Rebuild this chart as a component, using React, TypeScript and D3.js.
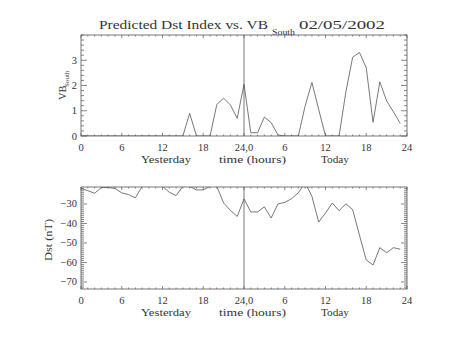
import React from "react";
import * as d3 from "d3";

const hours = d3.range(0, 48);
const vbSouth = [0, 0, 0, 0, 0, 0, 0, 0, 0, 0, 0, 0, 0, 0, 0, 0, 0.9, 0, 0, 0, 1.25, 1.5, 1.23, 0.7,
  2.05, 0.13, 0.13, 0.75, 0.53, 0.04, 0, 0, 0, 1.19, 2.12, 1.05, 0, 0, 0, 1.75, 3.12, 3.31, 2.7, 0.54, 2.14, 1.39, 0.96, 0.5];
const dst = [-22, -23.2, -24.5, -21.6, -21.6, -22, -24.3, -25.2, -26.9, -21, -20, -20, -21, -24, -25.7, -21, -21, -22.8, -22.8, -21, -21, -29.5, -33.3, -36.4,
  -27.4, -34.1, -34.1, -31.5, -37.2, -30, -29.2, -27.3, -24.3, -19, -26.1, -39.3, -34.6, -29.5, -33.5, -29.9, -32.9, -46, -58.7, -61.3, -52.4, -55, -52.4, -53.2];
const xTickValues = [0, 6, 12, 18, 24, 30, 36, 42, 48];
const xTickLabels = ["0", "6", "12", "18", "24,0", "6", "12", "18", "24"];
const vbTicks = [0, 1, 2, 3];
const dstTicks = [-70, -60, -50, -40, -30];

const FONT = "'Liberation Serif', 'DejaVu Serif', serif";
const INK = "#555";
const TXT = "#333";

const X0 = 81, X1 = 407;

type PanelProps = {
  top: number; bottom: number; domain: [number, number]; values: number[];
  ticks: number[]; minorStep: number; id: string;
};

function Panel({ top, bottom, domain, values, ticks, minorStep, id }: PanelProps) {
  const x = d3.scaleLinear().domain([0, 48]).range([X0, X1]);
  const y = d3.scaleLinear().domain(domain).range([bottom, top]);
  const line = d3.line<number>().x((_, i) => x(hours[i])).y((d) => y(d));
  const minorY: number[] = [];
  const lo = Math.ceil(domain[0] / minorStep) * minorStep;
  for (let v = lo; v <= domain[1] + 1e-9; v += minorStep) minorY.push(+v.toFixed(4));
  const minorX = d3.range(0, 49);
  return (
    <g>
      <defs>
        <clipPath id={id}>
          <rect x={X0} y={top} width={X1 - X0} height={bottom - top} />
        </clipPath>
      </defs>
      <rect x={X0} y={top} width={X1 - X0} height={bottom - top} fill="none" stroke={INK} strokeWidth={0.8} />
      {minorX.map((h) => {
        const major = h % 6 === 0;
        const len = major ? 3 : 1.5;
        return (
          <g key={"x" + h}>
            <line x1={x(h)} x2={x(h)} y1={bottom} y2={bottom - len} stroke={INK} strokeWidth={0.7} />
            <line x1={x(h)} x2={x(h)} y1={top} y2={top + len} stroke={INK} strokeWidth={0.7} />
          </g>
        );
      })}
      {minorY.map((v, i) => {
        const major = ticks.some((t) => Math.abs(t - v) < 1e-6);
        const len = major ? 6 : 3;
        return (
          <g key={"y" + i}>
            <line x1={X0} x2={X0 + len} y1={y(v)} y2={y(v)} stroke={INK} strokeWidth={0.7} />
            <line x1={X1} x2={X1 - len} y1={y(v)} y2={y(v)} stroke={INK} strokeWidth={0.7} />
          </g>
        );
      })}
      <line x1={x(24)} x2={x(24)} y1={top} y2={bottom} stroke={INK} strokeWidth={0.8} />
      <path d={line(values) || ""} fill="none" stroke={INK} strokeWidth={0.8} clipPath={`url(#${id})`} />
      {ticks.map((t) => (
        <text key={"yl" + t} x={77} y={y(t) + 3.5} textAnchor="end" fontSize={10.5} fontFamily={FONT} fill={TXT}>
          {t < 0 ? "\u2212" + Math.abs(t) : String(t)}
        </text>
      ))}
      {xTickValues.map((h, i) => (
        <text key={"xl" + i} x={x(h)} y={bottom + 15} textAnchor="middle" fontSize={10.5} fontFamily={FONT} fill={TXT}>
          {xTickLabels[i]}
        </text>
      ))}
      <text x={141} y={bottom + 27} fontSize={10.5} fontFamily={FONT} fill={TXT} textLength={50} lengthAdjust="spacingAndGlyphs">Yesterday</text>
      <text x={219} y={bottom + 27} fontSize={10.5} fontFamily={FONT} fill={TXT} textLength={67} lengthAdjust="spacingAndGlyphs">time (hours)</text>
      <text x={321} y={bottom + 27} fontSize={10.5} fontFamily={FONT} fill={TXT} textLength={28} lengthAdjust="spacingAndGlyphs">Today</text>
    </g>
  );
}

export default function App() {
  return (
    <svg width={454} height={341} style={{ position: "absolute", left: 0, top: 0, background: "#fff" }}>
      <rect width={454} height={341} fill="#fff" />
      <text x={99} y={29} fontSize={13} fontFamily={FONT} fill={TXT} textLength={169} lengthAdjust="spacingAndGlyphs">
        Predicted Dst Index vs. VB
      </text>
      <text x={272} y={35} fontSize={8} fontFamily={FONT} fill={TXT} textLength={23} lengthAdjust="spacingAndGlyphs">South</text>
      <text x={299} y={29} fontSize={13} fontFamily={FONT} fill={TXT} textLength={86} lengthAdjust="spacingAndGlyphs">02/05/2002</text>
      <Panel top={35} bottom={136} domain={[0, 4]} values={vbSouth} ticks={vbTicks} minorStep={0.2} id="clipTop" />
      <Panel top={187} bottom={289} domain={[-73.6, -21.3]} values={dst} ticks={dstTicks} minorStep={1} id="clipBot" />
      <g transform="translate(66,100) rotate(-90)">
        <text x={0} y={0} fontSize={10.5} fontFamily={FONT} fill={TXT}>VB</text>
        <text x={13} y={3} fontSize={7} fontFamily={FONT} fill={TXT}>South</text>
      </g>
      <text transform="translate(52,240) rotate(-90)" textAnchor="middle" fontSize={10.5} fontFamily={FONT} fill={TXT} textLength={42} lengthAdjust="spacingAndGlyphs">Dst (nT)</text>
    </svg>
  );
}
